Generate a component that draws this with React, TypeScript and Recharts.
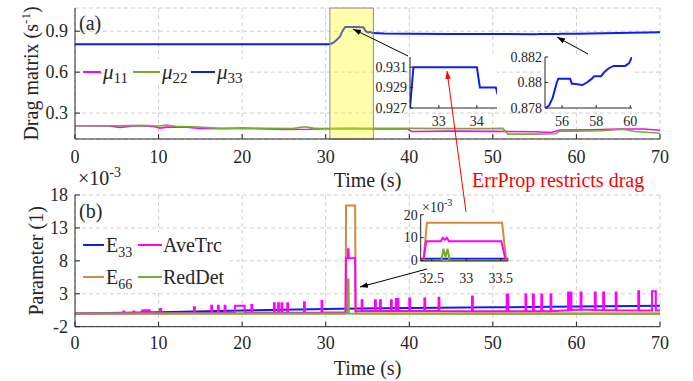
import React from 'react';
import { LineChart, Line, XAxis, YAxis, CartesianGrid, ReferenceArea } from 'recharts';

const W = 693;
const H = 381;
const INK = '#262626';
const GRID = '#cfcfcf';
const BLUE = '#0d1ef2';
const MAGENTA = '#ff00ff';
const GREEN = '#77ac30';
const ORANGE = '#d4883f';
const FONT = 'Liberation Serif, DejaVu Serif, serif';

// ---- panel (a): drag matrix ----
const TIME_TICKS = [0, 10, 20, 30, 40, 50, 60, 70];
const DRAG_TICKS = [0.3, 0.6, 0.9];
const DRAG_DOMAIN = [0.11, 1.07];
const ERRPROP_WINDOW = [30.5, 35.7];

const MU11_T = [0, 4, 5.4, 7, 8, 9.5, 10.2, 11, 13, 15, 18, 20, 22, 25, 28, 30, 33, 36, 39.8, 40.3, 45, 50, 55, 57, 58, 62, 65, 68, 70];
const MU11_V = [0.207, 0.205, 0.195, 0.205, 0.207, 0.2, 0.19, 0.197, 0.198, 0.188, 0.186, 0.19, 0.186, 0.18, 0.181, 0.186, 0.188, 0.183, 0.183, 0.165, 0.168, 0.166, 0.163, 0.158, 0.176, 0.178, 0.183, 0.183, 0.174];

const MU22_T = [0, 5, 8, 10, 11, 12, 14, 17, 20, 23, 26, 27.5, 28.5, 30, 33, 36, 40, 45, 50, 51.2, 51.8, 55, 57.5, 58, 60, 63, 65.6, 67, 70];
const MU22_V = [0.207, 0.207, 0.21, 0.205, 0.212, 0.203, 0.2, 0.19, 0.188, 0.188, 0.186, 0.2, 0.19, 0.185, 0.186, 0.188, 0.188, 0.186, 0.186, 0.188, 0.146, 0.146, 0.148, 0.168, 0.168, 0.17, 0.182, 0.165, 0.152];

const MU33_T = [0, 30.5, 30.9, 31.3, 31.7, 32.0, 32.33, 34.0, 34.08, 34.5, 34.8, 35.1, 35.3, 35.6, 37, 40, 45, 50, 55.04, 55.45, 55.78, 56.47, 56.67, 57.2, 57.75, 58.29, 58.72, 59.02, 59.7, 60.1, 65, 70];
const MU33_V = [0.805, 0.805, 0.815, 0.835, 0.86, 0.9, 0.931, 0.931, 0.929, 0.929, 0.9, 0.89, 0.895, 0.886, 0.883, 0.881, 0.879, 0.879, 0.878, 0.8788, 0.8803, 0.8803, 0.8799, 0.8798, 0.8803, 0.8805, 0.8811, 0.8813, 0.8813, 0.882, 0.887, 0.893];

// inset a1: peak of mu33
const ZOOM1_T = [32.24, 32.33, 34.0, 34.08, 34.5, 34.55];
const ZOOM1_V = [0.927, 0.931, 0.931, 0.929, 0.929, 0.9283];
const ZOOM1_XTICKS = [33, 34];
const ZOOM1_YTICKS = [0.927, 0.929, 0.931];

// inset a2: slow drift of mu33
const ZOOM2_T = [55.04, 55.24, 55.45, 55.69, 55.78, 56.22, 56.47, 56.57, 56.67, 57.2, 57.45, 57.75, 57.88, 58.29, 58.47, 58.72, 59.02, 59.7, 59.92, 60.1];
const ZOOM2_V = [0.878, 0.8782, 0.8788, 0.88, 0.8803, 0.8803, 0.8803, 0.8799, 0.8799, 0.8798, 0.88, 0.8803, 0.8805, 0.8805, 0.8808, 0.8811, 0.8813, 0.8813, 0.8815, 0.882];
const ZOOM2_XTICKS = [56, 58, 60];
const ZOOM2_YTICKS = [0.878, 0.88, 0.882];

// ---- panel (b): parameters (x1e-3) ----
const PARAM_TICKS = [-2, 3, 8, 13, 18];

const E33_T = [0, 10, 20, 30, 34, 40, 50, 60, 70];
const E33_V = [0, 0.2, 0.45, 0.68, 0.76, 0.85, 0.95, 1.05, 1.17];

const E66_T = [0, 32.38, 32.43, 33.52, 33.58, 70];
const E66_V = [0, 0, 16.4, 16.4, 0, 0];

const REDDET_T = [0, 32.64, 32.67, 32.7, 32.73, 32.76, 70];
const REDDET_V = [0, 0, 5.3, 1.5, 5.3, 0, -0.05];

const AVETRC_T = [0, 32.38, 32.42, 32.63, 32.66, 32.69, 32.72, 32.75, 33.52, 33.57, 70];
const AVETRC_V = [0, 0.15, 8.4, 8.4, 9.9, 9.0, 9.9, 8.4, 8.4, 0.35, 0.45];

// short excursions of AveTrc: start, width, top, base
const SPIKE_T = [5.8, 7.0, 8.0, 8.26, 8.58, 8.86, 10.17, 14.24, 16.3, 17.1, 17.9, 19.15, 21.1, 23.8, 24.3, 24.7, 25.4, 27.4, 29.5, 34.3, 35.9, 36.5, 37.8, 38.4, 38.6, 40.0, 41.8, 43.5, 47.5, 51.65, 53.9, 54.8, 55.8, 56.9, 59.0, 59.3, 60.5, 62.2, 63.2, 64.7, 67.4, 69.05];
const SPIKE_W = [0.1, 0.1, 0.1, 0.1, 0.1, 0.1, 0.12, 0.1, 0.1, 0.1, 0.1, 1.15, 0.1, 0.1, 0.1, 0.1, 0.1, 0.1, 0.1, 0.1, 0.1, 0.1, 0.1, 0.1, 0.1, 0.1, 0.1, 0.1, 0.1, 0.2, 0.1, 0.1, 0.1, 0.1, 0.1, 0.1, 0.1, 0.1, 0.1, 0.1, 0.1, 0.45];
const SPIKE_TOP = [0.3, 0.3, 0.45, 0.5, 0.5, 0.45, 0.7, 0.95, 1.2, 1.2, 1.2, 1.2, 1.3, 1.55, 1.55, 1.55, 1.55, 1.7, 1.9, 2.0, 2.0, 2.0, 2.0, 2.2, 2.2, 2.3, 2.3, 2.4, 2.6, 2.9, 2.9, 2.9, 2.9, 2.9, 3.2, 3.2, 3.2, 3.2, 3.2, 3.2, 3.4, 3.4];
const SPIKE_BASE = [0.02, 0.03, 0.03, 0.03, 0.04, 0.04, 0.05, 0.07, 0.08, 0.08, 0.09, 0.1, 0.1, 0.12, 0.12, 0.12, 0.12, 0.13, 0.14, 0.4, 0.4, 0.4, 0.4, 0.4, 0.4, 0.4, 0.4, 0.38, 0.35, 0.33, 0.33, 0.33, 0.35, 0.35, 0.5, 0.55, 0.6, 0.55, 0.5, 0.5, 0.45, 0.45];

// inset b: the 32.3-33.6 s event
const ZOOMB_XTICKS = [32.5, 33, 33.5];
const ZOOMB_YTICKS = [0, 10, 20];
const ZB_E33_T = [32.3, 33.7];
const ZB_E33_V = [0.75, 0.75];
const ZB_E66_T = [32.3, 32.38, 32.43, 33.52, 33.58, 33.7];
const ZB_E66_V = [0, 0, 16.5, 16.5, 0, 0];
const ZB_AVE_T = [32.3, 32.38, 32.42, 32.63, 32.66, 32.69, 32.72, 32.75, 33.51, 33.57, 33.7];
const ZB_AVE_V = [0.3, 0.3, 8.4, 8.4, 9.9, 9.0, 9.9, 8.4, 8.4, 0.3, 0.3];
const ZB_RED_T = [32.3, 32.64, 32.67, 32.7, 32.73, 32.76, 33.7];
const ZB_RED_V = [0, 0, 5.1, 1.5, 5.1, 0, 0];

const pts = (t: number[], v: number[]) => t.map((x, i) => ({ t: x, v: v[i] }));

const aveTrcData = [
  ...pts(AVETRC_T, AVETRC_V),
  ...SPIKE_T.flatMap((t, i) => [
    { t, v: SPIKE_BASE[i] },
    { t: t + 0.001, v: SPIKE_TOP[i] },
    { t: t + SPIKE_W[i], v: SPIKE_TOP[i] },
    { t: t + SPIKE_W[i] + 0.001, v: SPIKE_BASE[i] },
  ]),
].sort((a, b) => a.t - b.t);

// serif tick labels
const xTick = (size: number) => (p: any) => (
  <text x={p.x} y={p.y} dy='0.71em' textAnchor='middle' fontSize={size} fill={INK} fontFamily={FONT}>
    {p.payload.value}
  </text>
);
const yTick = (size: number) => (p: any) => (
  <text x={p.x} y={p.y} dy='0.34em' textAnchor='end' fontSize={size} fill={INK} fontFamily={FONT}>
    {p.payload.value}
  </text>
);

// top and right axis lines so each axes gets a closed box with inward ticks
const boxAxes = (xDomain: number[], yDomain: number[], xTicks: number[], yTicks: number[], size: number) => [
  <XAxis key='bx' xAxisId='top' orientation='top' type='number' domain={xDomain} ticks={xTicks} interval={0}
    allowDataOverflow tick={false} tickSize={-size} height={0} stroke={INK} />,
  <YAxis key='by' yAxisId='right' orientation='right' type='number' domain={yDomain} ticks={yTicks} interval={0}
    allowDataOverflow tick={false} tickSize={-size} width={0} stroke={INK} />,
];

const line = (key: string, data: any[], color: string, width = 2) => (
  <Line key={key} data={data} dataKey='v' type='linear' stroke={color} strokeWidth={width}
    dot={false} activeDot={false} isAnimationActive={false} />
);

const RotLabel = ({ viewBox, text, shift, sup }: any) => {
  const x = viewBox.x + shift;
  const y = viewBox.y + viewBox.height / 2;
  return (
    <text x={x} y={y} textAnchor='middle' transform={`rotate(-90 ${x} ${y})`}
      fontSize={20} fill={INK} fontFamily={FONT}>
      {text}
      {sup && <tspan dy={-8} fontSize={13}>{sup}</tspan>}
      {sup && <tspan dy={8}>)</tspan>}
    </text>
  );
};

type InsetProps = {
  box: number[]; // left, top, right, bottom in px
  xDomain: number[];
  yDomain: number[];
  xTicks: number[];
  yTicks: number[];
  xMargin: number;
  children: React.ReactNode;
};

const Inset = ({ box, xDomain, yDomain, xTicks, yTicks, xMargin, children }: InsetProps) => (
  <div style={{ position: 'absolute', left: 0, top: 0 }}>
    <LineChart width={W} height={H}
      margin={{ top: box[1], left: box[0] - 40, right: W - box[2], bottom: H - box[3] - 20 }}>
      <CartesianGrid fill='#ffffff' horizontal={false} vertical={false} />
      <XAxis dataKey='t' type='number' domain={xDomain} ticks={xTicks} interval={0} allowDataOverflow height={20}
        tickSize={-3} tickMargin={xMargin} tick={xTick(14)} stroke={INK} />
      <YAxis type='number' domain={yDomain} ticks={yTicks} interval={0} allowDataOverflow width={40}
        tickSize={-3} tickMargin={6} tick={yTick(14)} stroke={INK} />
      {boxAxes(xDomain, yDomain, xTicks, yTicks, 3)}
      {children}
    </LineChart>
  </div>
);

export default function App() {
  return (
    <div style={{ position: 'absolute', left: 0, top: 0, width: W, height: H, background: '#fff', fontFamily: FONT }}>
      {/* panel (a) */}
      <div style={{ position: 'absolute', left: 0, top: 0 }}>
        <LineChart width={W} height={H} margin={{ top: 8, right: W - 660, bottom: H - 139 - 48, left: 20 }}>
          <CartesianGrid stroke={GRID} strokeDasharray='4 3' />
          <XAxis dataKey='t' type='number' domain={[0, 70]} ticks={TIME_TICKS} interval={0} allowDataOverflow height={48}
            tickSize={-5} tickMargin={16} tick={xTick(18)} stroke={INK}
            label={{ value: 'Time (s)', position: 'insideBottom', offset: 0, fontSize: 20, fill: INK }} />
          <YAxis type='number' domain={DRAG_DOMAIN} ticks={DRAG_TICKS} interval={0} allowDataOverflow width={55}
            tickSize={-5} tickMargin={12} tick={yTick(18)} stroke={INK}
            label={(p: any) => <RotLabel {...p} text='Drag matrix (s' sup='-1' shift={18} />} />
          {boxAxes([0, 70], DRAG_DOMAIN, TIME_TICKS, DRAG_TICKS, 5)}
          {line('mu11', pts(MU11_T, MU11_V), MAGENTA, 1.6)}
          {line('mu22', pts(MU22_T, MU22_V), GREEN, 1.6)}
          {line('mu33', pts(MU33_T, MU33_V), BLUE)}
          <ReferenceArea x1={ERRPROP_WINDOW[0]} x2={ERRPROP_WINDOW[1]} fill='#ffff00' fillOpacity={0.33}
            stroke='#8c8c8c' strokeWidth={1} ifOverflow='visible' zIndex={450} />
        </LineChart>
      </div>

      {/* panel (b) */}
      <div style={{ position: 'absolute', left: 0, top: 0 }}>
        <LineChart width={W} height={H} margin={{ top: 195, right: W - 660, bottom: H - 326.7 - 48, left: 20 }}>
          <CartesianGrid stroke={GRID} strokeDasharray='4 3' />
          <XAxis dataKey='t' type='number' domain={[0, 70]} ticks={TIME_TICKS} interval={0} allowDataOverflow height={48}
            tickSize={-5} tickMargin={15} tick={xTick(18)} stroke={INK}
            label={{ value: 'Time (s)', position: 'insideBottom', offset: 0, fontSize: 20, fill: INK }} />
          <YAxis type='number' domain={[-2, 18]} ticks={PARAM_TICKS} interval={0} allowDataOverflow width={55}
            tickSize={-5} tickMargin={12} tick={yTick(18)} stroke={INK}
            label={(p: any) => <RotLabel {...p} text='Parameter (1)' shift={23} />} />
          {boxAxes([0, 70], [-2, 18], TIME_TICKS, PARAM_TICKS, 5)}
          {line('e33', pts(E33_T, E33_V), BLUE)}
          {line('e66', pts(E66_T, E66_V), ORANGE)}
          {line('ave', aveTrcData, MAGENTA)}
          {line('red', pts(REDDET_T, REDDET_V), GREEN)}
        </LineChart>
      </div>

      <Inset box={[410, 57, 497, 108]} xDomain={[32.24, 34.53]} yDomain={[0.927, 0.932]}
        xTicks={ZOOM1_XTICKS} yTicks={ZOOM1_YTICKS} xMargin={11}>
        {line('z1', pts(ZOOM1_T, ZOOM1_V), BLUE)}
      </Inset>
      <Inset box={[545, 57, 632, 108]} xDomain={[55, 60.1]} yDomain={[0.878, 0.882]}
        xTicks={ZOOM2_XTICKS} yTicks={ZOOM2_YTICKS} xMargin={11}>
        {line('z2', pts(ZOOM2_T, ZOOM2_V), BLUE)}
      </Inset>
      <Inset box={[420.7, 214.3, 508.3, 261]} xDomain={[32.34, 33.61]} yDomain={[-0.2, 20.2]}
        xTicks={ZOOMB_XTICKS} yTicks={ZOOMB_YTICKS} xMargin={15}>
        {line('zb1', pts(ZB_E33_T, ZB_E33_V), BLUE)}
        {line('zb2', pts(ZB_E66_T, ZB_E66_V), ORANGE)}
        {line('zb3', pts(ZB_AVE_T, ZB_AVE_V), MAGENTA)}
        {line('zb4', pts(ZB_RED_T, ZB_RED_V), GREEN)}
      </Inset>

      {/* annotations */}
      <svg width={W} height={H} style={{ position: 'absolute', left: 0, top: 0 }} fontFamily={FONT}>
        <defs>
          <marker id='ah' viewBox='0 0 10 10' refX='10' refY='5' markerWidth='8' markerHeight='8' orient='auto'>
            <path d='M0,1.5 L10,5 L0,8.5 z' fill='#000' />
          </marker>
          <marker id='ahr' viewBox='0 0 10 10' refX='10' refY='5' markerWidth='8' markerHeight='8' orient='auto'>
            <path d='M0,1.5 L10,5 L0,8.5 z' fill='#ff0000' />
          </marker>
        </defs>
        <text x={79} y={30} fontSize={20} fill={INK}>(a)</text>
        <text x={79} y={218} fontSize={20} fill={INK}>(b)</text>
        <text x={78} y={185} fontSize={20} fill={INK}>×10<tspan dy={-8} fontSize={14}>-3</tspan></text>
        <text x={422} y={211.5} fontSize={14} fill={INK}>×10<tspan dy={-6} fontSize={10}>-3</tspan></text>

        <rect x={80} y={59} width={168} height={26} fill='#fff' />
        <line x1={83} x2={101} y1={72} y2={72} stroke={MAGENTA} strokeWidth={2} />
        <text x={103} y={79} fontSize={21} fill={INK}><tspan fontStyle='italic'>μ</tspan><tspan fontSize={15} dy={4}>11</tspan></text>
        <line x1={133} x2={160} y1={72} y2={72} stroke={GREEN} strokeWidth={2} />
        <text x={162} y={79} fontSize={21} fill={INK}><tspan fontStyle='italic'>μ</tspan><tspan fontSize={15} dy={4}>22</tspan></text>
        <line x1={191} x2={215} y1={72} y2={72} stroke={BLUE} strokeWidth={2} />
        <text x={217} y={79} fontSize={21} fill={INK}><tspan fontStyle='italic'>μ</tspan><tspan fontSize={15} dy={4}>33</tspan></text>

        <rect x={80} y={232} width={150} height={60} fill='#fff' />
        <line x1={83} x2={104} y1={245} y2={245} stroke={BLUE} strokeWidth={2} />
        <text x={106} y={252} fontSize={20} fill={INK}>E<tspan fontSize={14} dy={5}>33</tspan></text>
        <line x1={138} x2={162} y1={245} y2={245} stroke={MAGENTA} strokeWidth={2} />
        <text x={163} y={252} fontSize={20} fill={INK}>AveTrc</text>
        <line x1={83} x2={104} y1={277} y2={277} stroke={ORANGE} strokeWidth={2} />
        <text x={106} y={284} fontSize={20} fill={INK}>E<tspan fontSize={14} dy={5}>66</tspan></text>
        <line x1={138} x2={162} y1={277} y2={277} stroke={GREEN} strokeWidth={2} />
        <text x={163} y={284} fontSize={20} fill={INK}>RedDet</text>

        <line x1={408} y1={56} x2={353} y2={29} stroke='#000' strokeWidth={1} markerEnd='url(#ah)' />
        <line x1={588} y1={54} x2={557} y2={37} stroke='#000' strokeWidth={1} markerEnd='url(#ah)' />
        <line x1={427} y1={269} x2={360} y2={287} stroke='#000' strokeWidth={1} markerEnd='url(#ah)' />
        <line x1={466} y1={212} x2={447} y2={71} stroke='#ff0000' strokeWidth={1} markerEnd='url(#ahr)' />
        <text x={472} y={187} fontSize={20} fill='#ff0000'>ErrProp restricts drag</text>
      </svg>
    </div>
  );
}
